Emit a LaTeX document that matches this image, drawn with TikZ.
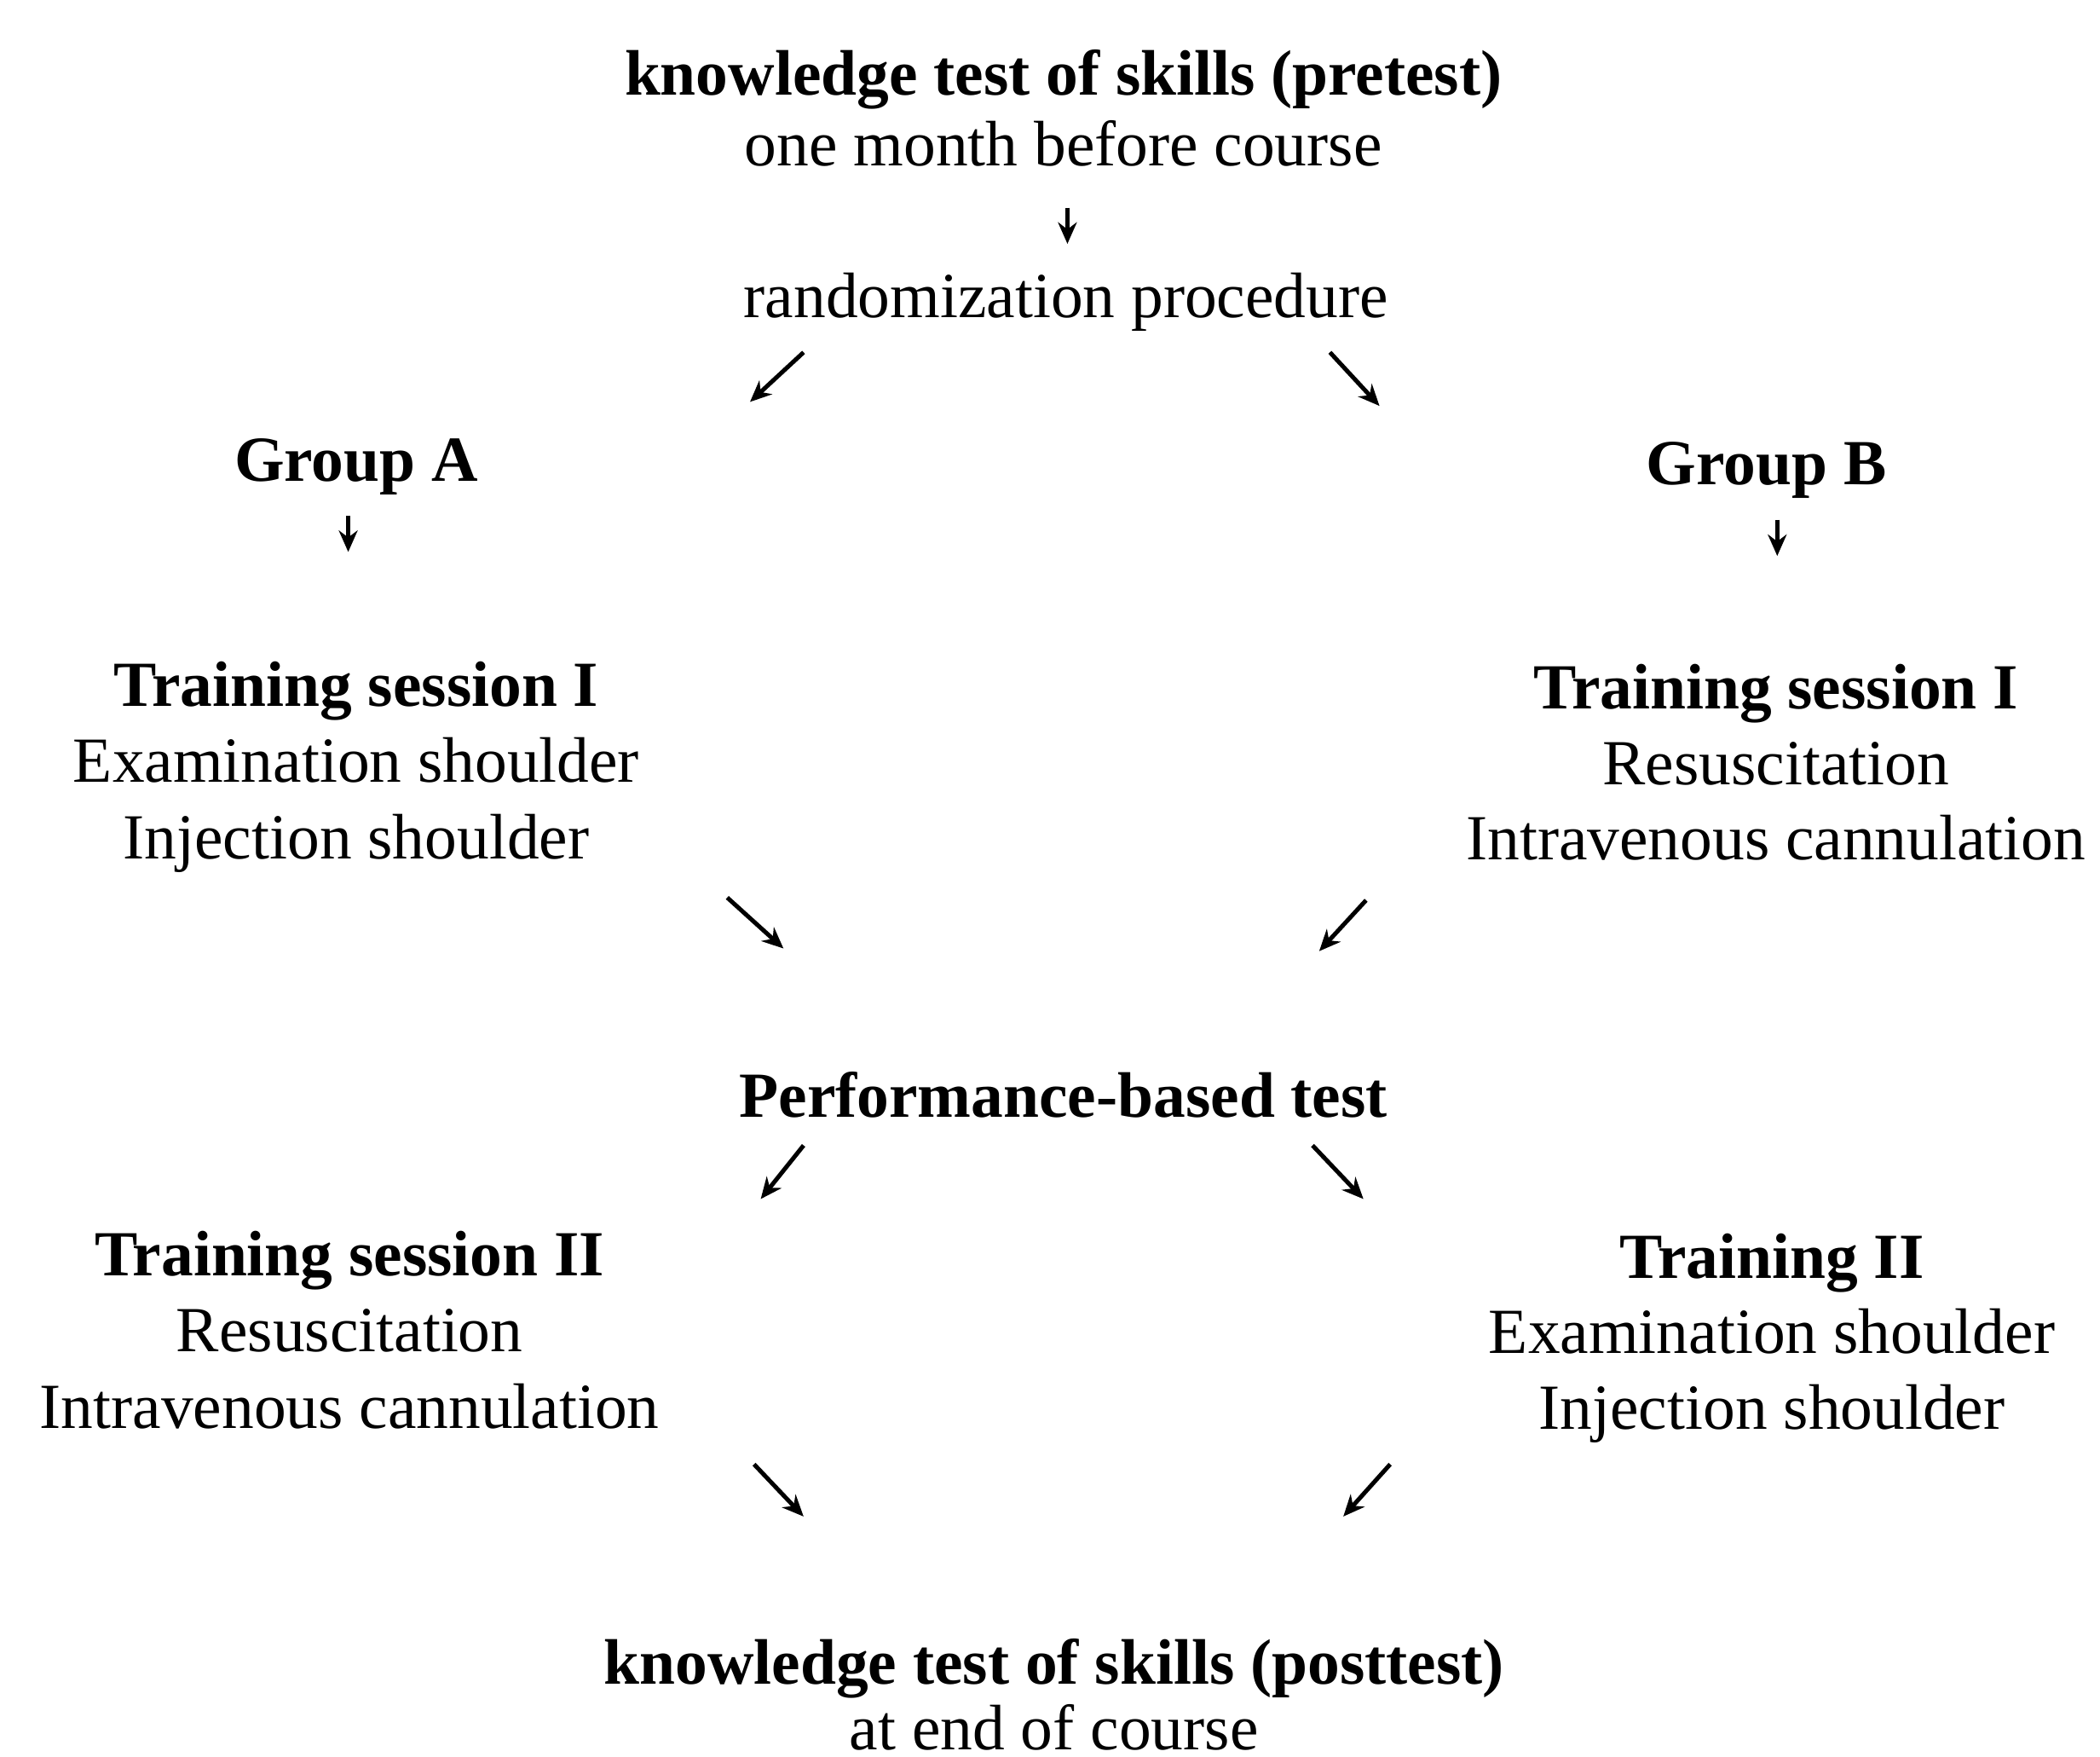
\documentclass[tikz,border=0pt]{standalone}
\usepackage{fontspec}
\setmainfont{Liberation Serif}
\usetikzlibrary{arrows.meta}
\begin{document}
\begin{tikzpicture}[x=0.5pt,y=-0.5pt,
  txt/.style={inner sep=0pt, anchor=base, align=center, font=\fontsize{24}{28.5}\selectfont},
  arr/.style={line width=1.6pt, -{Stealth[length=8pt,width=7pt]}}]
\useasboundingbox (0,0) rectangle (1568,1311);
% texts (base anchor = baseline of the last line)
\node[txt, font=\fontsize{24}{26.5}\selectfont] (pre) at (794,124) {\textbf{knowledge test of skills (pretest)}\\one month before course};
\node[txt] (rand) at (796,237) {randomization procedure};
\node[txt] (ga) at (266,359) {\textbf{Group A}};
\node[txt] (gb) at (1319,362) {\textbf{Group B}};
\node[txt] (tla) at (266,641) {\textbf{Training session I}\\Examination shoulder\\Injection shoulder};
\node[txt, font=\fontsize{24}{28.25}\selectfont] (tlb) at (1326,642) {\textbf{Training session I}\\Resuscitation\\Intravenous cannulation};
\node[txt] (perf) at (794,834) {\textbf{Performance-based test}};
\node[txt] (t2a) at (261,1066) {\textbf{Training session II}\\Resuscitation\\Intravenous cannulation};
\node[txt, font=\fontsize{24}{28.25}\selectfont] (t2b) at (1323,1067) {\textbf{Training II}\\Examination shoulder\\Injection shoulder};
\node[txt, font=\fontsize{24}{24.5}\selectfont] (post) at (787,1306) {\textbf{knowledge test of skills (posttest)}\\at end of course};
% arrow end points
\coordinate (a1s) at (797,155); \coordinate (a1e) at (797,182);
\coordinate (a2s) at (600,263); \coordinate (a2e) at (560,300);
\coordinate (a3s) at (993,263); \coordinate (a3e) at (1030,303);
\coordinate (a4s) at (260,385); \coordinate (a4e) at (260,412);
\coordinate (a5s) at (1327,388); \coordinate (a5e) at (1327,415);
\coordinate (a6s) at (543,670); \coordinate (a6e) at (585,708);
\coordinate (a7s) at (1020,672); \coordinate (a7e) at (985,710);
\coordinate (a8s) at (600,855); \coordinate (a8e) at (568,895);
\coordinate (a9s) at (980,855); \coordinate (a9e) at (1018,895);
\coordinate (a10s) at (563,1093); \coordinate (a10e) at (600,1132);
\coordinate (a11s) at (1038,1093); \coordinate (a11e) at (1003,1132);
\foreach \i in {1,...,11} {\draw[arr] (a\i s) -- (a\i e);}
\end{tikzpicture}
\end{document}
